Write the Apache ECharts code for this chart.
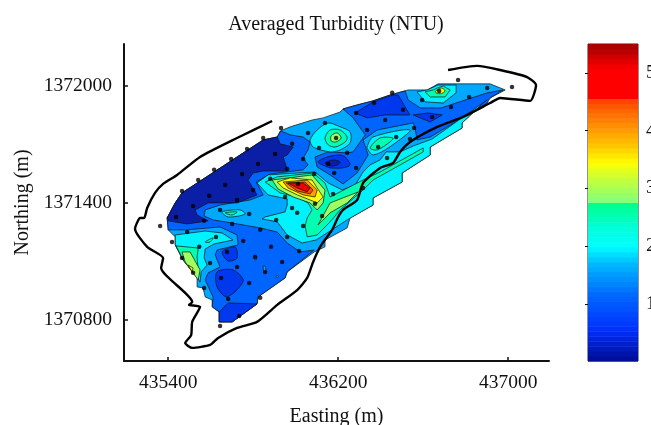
<!DOCTYPE html>
<html><head><meta charset="utf-8">
<style>html,body{margin:0;padding:0;background:#fff}#c{width:651px;height:425px}</style>
<script src="https://cdn.jsdelivr.net/npm/echarts@6/dist/echarts.min.js"></script>
</head><body><div id="c"></div>
<script>
// All map coordinates: metres east of 435000 and north of 1370000
const originE = 435000, originN = 1370000;
const xTicks = [435400, 436200, 437000];
const yTicks = [1370800, 1371400, 1372000];
const barTicks = [1, 2, 3, 4, 5];

const NAVY='#0a1ea6', DARK='#0038ee', MED='#0064ff', LIGHT='#00a8ff', CYAN='#00f2ff',
      GREEN='#00ffb0', LIME='#a0ff60', YEL='#ffff00', ORG='#ffa000', DORG='#ff5000', RED='#f00000';

const domain = [[395,1322],[433,1399],[465,1450],[847,1721],[913,1736],[927,1767],[974,1788],[1077,1823],[1129,1834],[1209,1864],[1223,1880],[1289,1900],[1364,1921],[1444,1951],[1529,1977],[1619,1977],[1670,2008],[1915,2008],[1986,1977],[1915,1936],[1882,1910],[1783,1808],[1783,1782],[1633,1685],[1633,1644],[1501,1552],[1501,1506],[1364,1424],[1364,1388],[1256,1322],[1242,1271],[1138,1209],[1138,1174],[1087,1148],[960,1046],[950,1015],[823,918],[818,882],[701,790],[640,790],[640,841],[607,867],[607,902],[574,918],[564,964],[536,969],[536,1020],[470,1107],[433,1184],[433,1225],[400,1261]];
const medWest = [[395,1322],[433,1399],[465,1450],[847,1721],[913,1736],[931,1767],[974,1747],[1035,1736],[1068,1711],[1058,1670],[1035,1629],[1058,1593],[1035,1568],[880,1547],[814,1506],[847,1440],[786,1414],[644,1388],[574,1363],[569,1332],[611,1312],[701,1296],[833,1271],[913,1250],[960,1194],[1021,1148],[1087,1158],[960,1046],[950,1015],[823,918],[818,882],[701,790],[640,790],[640,841],[607,867],[611,918],[574,1005],[588,1041],[644,1071],[621,1133],[630,1158],[729,1184],[724,1235],[644,1276],[489,1261],[400,1261]];
const medEast = [[1223,1880],[1289,1900],[1364,1921],[1444,1951],[1515,1972],[1529,1926],[1586,1885],[1684,1885],[1901,1962],[1976,1977],[1915,1936],[1901,1910],[1633,1736],[1571,1721],[1562,1782],[1553,1808],[1383,1772],[1317,1721],[1341,1644],[1289,1552],[1223,1496],[1162,1542],[1101,1583],[1091,1634],[1153,1660],[1242,1655],[1270,1660],[1327,1747],[1270,1834]];
const navyWest = [[395,1322],[433,1399],[465,1450],[847,1721],[913,1736],[927,1701],[988,1685],[960,1644],[941,1634],[955,1588],[960,1562],[847,1562],[800,1552],[776,1516],[818,1440],[724,1399],[588,1399],[527,1363],[536,1337],[588,1307],[489,1291],[400,1307]];
const darkTop = [[1280,1859],[1364,1916],[1458,1951],[1482,1951],[1515,1890],[1538,1849],[1421,1849],[1336,1834]];
const darkRight = [[1553,1849],[1623,1859],[1689,1849],[1633,1813],[1586,1834]];
const darkMid = [[1105,1608],[1148,1634],[1209,1644],[1233,1634],[1256,1593],[1219,1578],[1162,1578],[1148,1583]];
const navyMid = [[1138,1603],[1176,1619],[1209,1608],[1195,1593],[1162,1588]];
const darkS1 = [[654,1148],[715,1174],[724,1117],[682,1102]];
const darkS2 = [[630,1046],[705,1056],[753,1000],[677,918],[630,969]];
const darkS3 = [[640,841],[682,887],[818,882],[701,790],[640,790]];
const cyanMain = [[870,1542],[818,1501],[870,1440],[960,1419],[960,1388],[950,1353],[856,1327],[842,1317],[913,1302],[960,1235],[1030,1194],[1096,1209],[1242,1312],[1364,1388],[1364,1424],[1501,1506],[1501,1552],[1633,1644],[1633,1685],[1783,1782],[1783,1808],[1882,1910],[1901,1926],[1642,1726],[1553,1690],[1491,1660],[1426,1660],[1397,1619],[1350,1593],[1317,1557],[1280,1491],[1219,1465],[1153,1501],[1091,1557],[1007,1552]];
const cyanB1 = [[1209,1788],[1256,1762],[1256,1706],[1209,1670],[1162,1660],[1082,1685],[1068,1721],[1101,1772],[1153,1808]];
const greenB1 = [[1162,1772],[1209,1772],[1242,1736],[1233,1711],[1186,1685],[1153,1696],[1138,1731]];
const limeB1 = [[1167,1742],[1195,1757],[1214,1731],[1190,1711],[1167,1716]];
const cyanB2 = [[1341,1670],[1364,1644],[1435,1680],[1538,1772],[1364,1736],[1336,1685]];
const greenB2 = [[1350,1680],[1397,1731],[1458,1731],[1444,1711],[1383,1670]];
const cyanB3 = [[1571,1967],[1609,1916],[1694,1910],[1755,1962],[1755,2002],[1670,2002],[1619,1977]];
const greenB3 = [[1609,1967],[1633,1941],[1703,1941],[1727,1977],[1694,1997],[1666,1987],[1647,1977]];
const limeB3 = [[1656,1967],[1684,1987],[1703,1972],[1680,1957]];
const cyanLeft = [[433,1235],[574,1255],[654,1245],[705,1209],[616,1189],[574,1163],[569,1117],[583,1081],[555,1046],[550,994],[536,1020],[470,1107],[433,1184]];
const greenLeft = [[437,1179],[541,1168],[536,1122],[541,1056],[536,1015],[470,1107]];
const limeLeft = [[465,1148],[503,1148],[550,1056],[541,1005],[480,1097]];
const yellowLeft = [[494,1081],[517,1066],[513,1046]];
const cyanSmall = [[654,1353],[738,1363],[762,1342],[682,1327]];
const greenSmall = [[668,1348],[724,1353],[701,1337]];
const greenSmall2 = [[574,1199],[611,1220],[597,1199]];
const tinyS1 = [[804,1128],[814,1128],[814,1107],[804,1112]];
const tinyS2 = [[847,1076],[856,1076],[860,1046],[851,1046]];
const tinyS3 = [[908,1025],[918,1025],[913,1015]];
const greenHot = [[856,1506],[913,1532],[1082,1552],[1138,1501],[1162,1429],[1317,1516],[1397,1557],[1600,1680],[1600,1660],[1491,1593],[1364,1516],[1317,1465],[1209,1363],[1162,1302],[1101,1235],[1054,1225],[1044,1281],[1054,1322],[1077,1363],[1058,1399],[1007,1429],[927,1450]];
const limeBand = [[1162,1399],[1294,1455],[1242,1399],[1162,1348],[1105,1286]];
const limeHot = [[889,1516],[1077,1542],[1138,1465],[1129,1399],[1101,1363],[1068,1399],[988,1429],[917,1470]];
const yellowHot = [[913,1506],[974,1527],[1077,1516],[1129,1429],[1101,1399],[1068,1414],[1007,1440],[941,1475]];
const orangeHot = [[941,1506],[1054,1516],[1101,1465],[1091,1429],[1035,1440],[964,1475]];
const dorangeHot = [[955,1501],[1044,1506],[1082,1465],[1068,1445],[1007,1460]];
const redHot = [[964,1501],[1035,1501],[1068,1475],[1054,1455],[1007,1475]];

const samples = [[931,1782],[847,1731],[771,1675],[696,1624],[616,1568],[541,1516],[465,1460],[1058,1757],[983,1701],[903,1649],[823,1598],[748,1547],[668,1491],[593,1435],[517,1383],[437,1327],[1138,1808],[1190,1731],[1110,1680],[1035,1624],[960,1573],[880,1522],[800,1465],[724,1414],[644,1363],[1153,1598],[1087,1547],[1011,1496],[950,1429],[1176,1445],[1091,1394],[1007,1348],[1124,1332],[781,1342],[983,1373],[1764,2028],[2018,1992],[1901,1987],[1816,1941],[1731,1890],[1675,1972],[1595,1926],[1454,1962],[1369,1910],[1284,1859],[1505,1875],[1421,1823],[1642,1839],[1557,1782],[1336,1772],[1473,1736],[1388,1685],[1538,1726],[1242,1655],[1430,1629],[1181,1552],[1284,1578],[1317,1475],[362,1281],[418,1199],[489,1250],[569,1307],[701,1291],[833,1261],[908,1312],[960,1225],[1035,1281],[753,1204],[625,1225],[546,1174],[677,1148],[884,1174],[1016,1153],[809,1122],[597,1092],[724,1071],[936,1097],[856,1046],[465,1117],[517,1041],[649,1015],[781,989],[569,964],[682,907],[833,913],[734,820],[644,769]];
const coast = [[889,1818],[724,1731],[550,1634],[442,1542],[376,1496],[338,1450],[301,1373],[287,1322],[268,1322],[244,1266],[301,1174],[376,1117],[367,1066],[513,892],[498,877],[550,867],[513,790],[508,723],[480,682],[513,657],[597,672],[635,708],[724,759],[818,790],[913,877],[1007,953],[1054,1015],[1082,1097],[1115,1174],[1171,1261],[1200,1327],[1223,1363],[1289,1414],[1317,1501],[1397,1578],[1458,1603],[1491,1660],[1538,1711],[1666,1788],[1788,1839],[1915,1910],[1962,1936],[2103,1921],[2131,2002],[2089,2043],[1962,2079],[1854,2100],[1717,2079]];

// colour bar stops: [value, r, g, b]
const barStops = [[0.01,0,12,144],[0.56,0,48,255],[1.14,0,102,255],[1.71,0,187,255],[2,0,255,255],[2.29,0,255,221],[2.75,0,255,136],[2.76,128,255,128],[3.2,204,255,51],[3.44,255,255,0],[3.73,255,200,0],[4.08,255,144,0],[4.37,255,96,0],[4.54,255,64,0],[4.55,255,0,0],[5.06,255,0,0],[5.5,160,0,0]];
const barSteps = 64, barMin = 0.01, barMax = 5.5;
function barColour(v){
  for(let i=1;i<barStops.length;i++){
    if(v<=barStops[i][0]){
      const a=barStops[i-1],b=barStops[i],t=(v-a[0])/(b[0]-a[0]);
      return 'rgb('+[1,2,3].map(k=>Math.round(a[k]+(b[k]-a[k])*t)).join(',')+')';
    }
  }
  return 'rgb(160,0,0)';
}
const barBands = Array.from({length:barSteps},(_,i)=>{
  const lo=barMin+(barMax-barMin)*i/barSteps, hi=barMin+(barMax-barMin)*(i+1)/barSteps;
  return [lo,hi,barColour((lo+hi)/2)];
});

// third item: round the closed inner contours
const layers = [
 [domain,LIGHT],[medWest,MED],[medEast,MED],[navyWest,NAVY],[darkTop,DARK],[darkRight,DARK],[darkMid,DARK,1],[navyMid,NAVY,1],[darkS1,DARK,1],[darkS2,DARK,1],[darkS3,DARK],[tinyS1,LIGHT,1],[tinyS2,LIGHT,1],[tinyS3,CYAN,1],
 [cyanMain,CYAN],[cyanB1,CYAN,1],[greenB1,GREEN,1],[limeB1,LIME,1],[cyanB2,CYAN,1],[greenB2,GREEN,1],[cyanB3,CYAN],[greenB3,GREEN],[limeB3,YEL,1],
 [cyanLeft,CYAN],[greenLeft,GREEN],[limeLeft,LIME],[yellowLeft,YEL],[cyanSmall,CYAN,1],[greenSmall,GREEN,1],[greenSmall2,GREEN,1],
 [greenHot,GREEN],[limeBand,LIME],[limeHot,LIME],[yellowHot,YEL],[orangeHot,ORG],[dorangeHot,DORG],[redHot,RED]
];
const toMap = p => [originE + p[0], originN + p[1]];
const SERIF = '"Liberation Serif","Times New Roman",serif';

const chart = echarts.init(document.getElementById('c'), null, {renderer:'canvas'});
chart.setOption({
 animation:false,
 backgroundColor:'#fff',
 title:{text:'Averaged Turbidity (NTU)',left:331,top:10,textAlign:'center',textStyle:{fontFamily:SERIF,fontSize:20,fontWeight:'normal',color:'#111'}},
 grid:[
  {left:124,top:44,width:425,height:317,outerBoundsMode:'none'},
  {left:588,top:44,width:50,height:317,show:true,borderColor:'#222',borderWidth:1,backgroundColor:'transparent',outerBoundsMode:'none'}
 ],
 xAxis:[
  {gridIndex:0,type:'value',min:435192,max:437192,name:'Easting (m)',nameLocation:'middle',nameGap:46,
   nameTextStyle:{fontFamily:SERIF,fontSize:20,color:'#111'},
   axisLine:{lineStyle:{color:'#111',width:2}},splitLine:{show:false},
   axisTick:{inside:true,length:4,customValues:xTicks,lineStyle:{color:'#111',width:1.5}},
   axisLabel:{customValues:xTicks,fontFamily:SERIF,fontSize:19.5,color:'#111',margin:12,formatter:v=>String(v)}},
  {gridIndex:1,type:'value',min:0,max:1,show:false}
 ],
 yAxis:[
  {gridIndex:0,type:'value',min:1370590,max:1372212,name:'Northing (m)',nameLocation:'middle',nameRotate:90,nameGap:88,
   nameTextStyle:{fontFamily:SERIF,fontSize:20,color:'#111'},
   axisLine:{lineStyle:{color:'#111',width:2}},splitLine:{show:false},
   axisTick:{inside:true,length:4,customValues:yTicks,lineStyle:{color:'#111',width:1.5}},
   axisLabel:{customValues:yTicks,fontFamily:SERIF,fontSize:19.5,color:'#111',margin:12,formatter:v=>String(v)}},
  {gridIndex:1,type:'value',min:0.01,max:5.5,position:'right',
   axisLine:{show:false},splitLine:{show:false},
   axisTick:{inside:true,length:3,customValues:barTicks,lineStyle:{color:'#111'}},
   axisLabel:{customValues:barTicks,fontFamily:SERIF,fontSize:19.5,color:'#111',margin:8,formatter:v=>String(v)}},
  {gridIndex:1,type:'value',min:0.01,max:5.5,position:'left',
   axisLine:{show:false},splitLine:{show:false},axisLabel:{show:false},
   axisTick:{inside:true,length:3,customValues:barTicks,lineStyle:{color:'#111'}}}
 ],
 series:[
  {type:'custom',name:'Turbidity contours',xAxisIndex:0,yAxisIndex:0,coordinateSystem:'cartesian2d',silent:true,
   data:layers.map((l,i)=>[i]),encode:{x:[],y:[]},clip:false,
   renderItem:(params,api)=>{
     const l = layers[api.value(0)];
     return {type:'polygon',shape:{points:l[0].map(p=>api.coord(toMap(p))),smooth:l[2]?0.3:0},
       style:{fill:l[1],stroke:'#101010',lineWidth:0.7}};
   }},
  {type:'scatter',name:'Stations',xAxisIndex:0,yAxisIndex:0,data:samples.map(toMap),symbolSize:4.5,z:5,itemStyle:{color:'#000'},silent:true},
  {type:'line',name:'Shoreline',xAxisIndex:0,yAxisIndex:0,data:coast.map(toMap),showSymbol:false,smooth:0.2,z:6,lineStyle:{color:'#000',width:2.4},silent:true},
  {type:'custom',name:'Colour bar',xAxisIndex:1,yAxisIndex:1,data:barBands.map((b,i)=>[i]),encode:{x:[],y:[]},silent:true,z:1,
   renderItem:(params,api)=>{
     const b = barBands[api.value(0)];
     const a = api.coord([0,b[1]]), c = api.coord([1,b[0]]);
     return {type:'rect',shape:{x:a[0],y:a[1],width:c[0]-a[0],height:c[1]-a[1]+0.5},style:{fill:b[2]}};
   }}
 ]
});
</script></body></html>
